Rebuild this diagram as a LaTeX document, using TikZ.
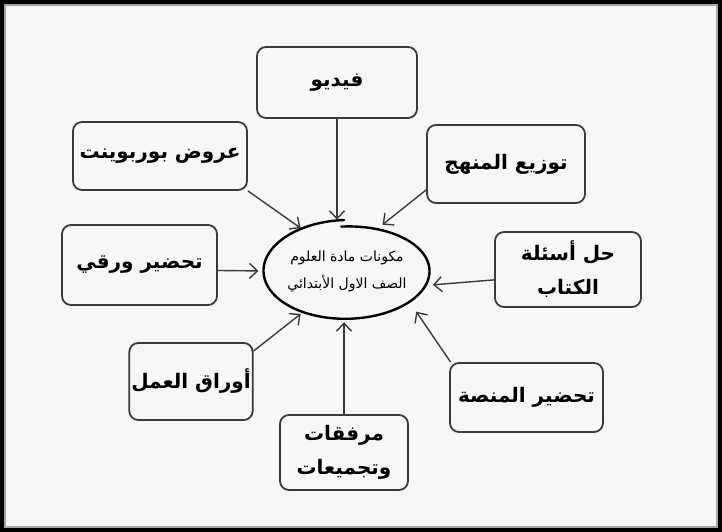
\documentclass[tikz,border=0pt]{standalone}
\usepackage{fontspec}
\usetikzlibrary{shapes.geometric,arrows.meta}
\TeXXeTstate=1
\newfontfamily\arabicfont[Script=Arabic]{DejaVu Sans}
\definecolor{bgc}{HTML}{F6F6F6}
\definecolor{inkc}{HTML}{3A3A3A}
\newcommand{\ar}[1]{\beginR #1\endR}
\tikzset{
  x=1pt,y=1pt,
  box/.style={draw=inkc, line width=1.8pt, rounded corners=9pt, fill=bgc,
    inner sep=2pt, align=center, text=black,
    font=\arabicfont\bfseries\fontsize{20}{34}\selectfont},
  conn/.style={draw=inkc, line width=1.4pt,
    -{Straight Barb[length=8pt,width=15pt,line width=1.4pt]}, shorten >=2pt},
}
\begin{document}
\begin{tikzpicture}
\useasboundingbox (0,0) rectangle (722,532);
\fill[black] (0,0) rectangle (722,532);
\fill[gray!70] (4,4) rectangle (718,528);
\fill[bgc] (6,6) rectangle (716,526);

% boxes
\node[box, minimum width=160, minimum height=71] (video) at (337,449.5) {\ar{فيديو}};
\node[box, minimum width=174, minimum height=68] (ppt) at (160,376) {\ar{عروض بوربوينت}};
\node[box, minimum width=158, minimum height=78] (manhaj) at (506,368) {\ar{توزيع المنهج}};
\node[box, minimum width=146, minimum height=75] (asila) at (568,262.5) {\ar{حل أسئلة}\\\ar{الكتاب}};
\node[box, minimum width=155, minimum height=80] (waraqi) at (139.5,267) {\ar{تحضير ورقي}};
\node[box, minimum width=122, minimum height=77] (awraq) at (191,150.5) {\ar{أوراق العمل}};
\node[box, minimum width=128, minimum height=75] (murfaqat) at (344,79.5) {\ar{مرفقات}\\\ar{وتجميعات}};
\node[box, minimum width=153, minimum height=69] (minassa) at (526.5,134.5) {\ar{تحضير المنصة}};

% centre
\node[ellipse, minimum width=168, minimum height=98, inner sep=0pt, align=center,
  font=\arabicfont\fontsize{14}{27}\selectfont] (c) at (347,261)
  {\ar{مكونات مادة العلوم}\\\ar{الصف الاول الأبتدائي}};
\draw[line width=2.4pt, black, line cap=round] plot[domain=94:-268, samples=140, smooth]
  ({347+(82+2*(94-\x)/362)*cos(\x)}, {261+(44.5+6.5*(94-\x)/362)*sin(\x)});

% connectors
\draw[conn] (video.south) -- (video.south |- c.north);
\draw[conn] (ppt.south east) -- (c.137);
\draw[conn] (manhaj.198) -- (c.53);
\draw[conn, shorten >=5pt] (asila.188) -- (c.-10);
\draw[conn, shorten >=4pt] (waraqi.-4) -- (c.180);
\draw[conn] (awraq.26) -- (c.223);
\draw[conn] (murfaqat.north) -- (murfaqat.north |- c.south);
\draw[conn, shorten >=10pt] (minassa.155.6) -- (c.-27);
\end{tikzpicture}
\end{document}
